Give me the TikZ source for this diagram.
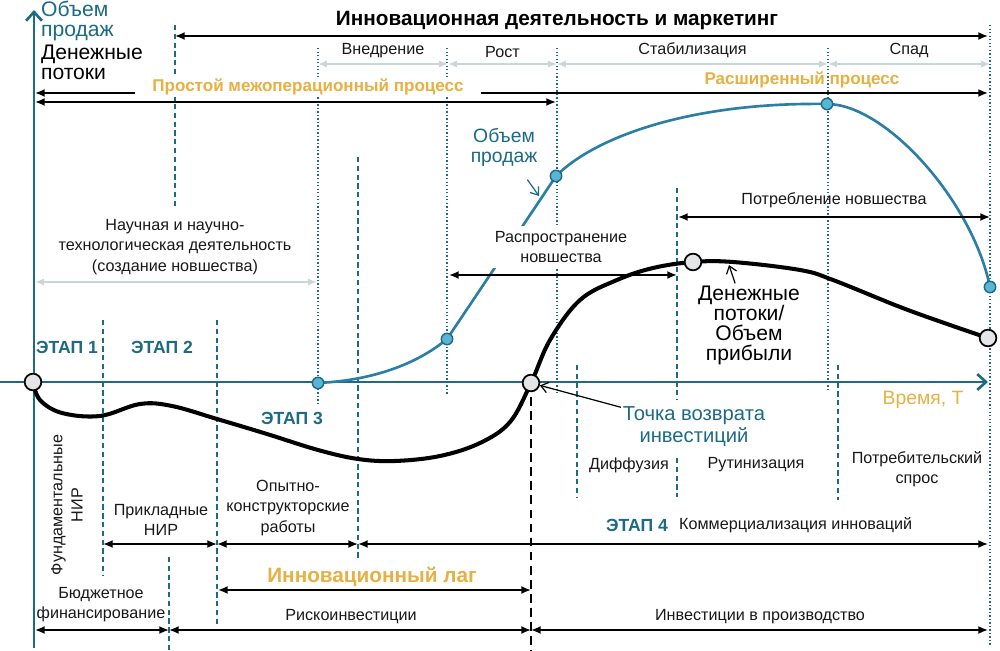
\documentclass[tikz,border=0pt]{standalone}
\usepackage{fontspec}
\setmainfont{Liberation Sans}
\usetikzlibrary{arrows.meta,positioning}
\definecolor{axteal}{HTML}{1D6A84}
\definecolor{salesblue}{HTML}{2B7FA5}
\definecolor{ptblue}{HTML}{5AB4D3}
\definecolor{lagorange}{HTML}{E6B043}
\definecolor{phasegray}{HTML}{C9D6DA}
\definecolor{circgray}{HTML}{E3E5E6}
\begin{document}
\begin{tikzpicture}[x=0.02cm,y=-0.02cm,>={Latex[length=5.5pt,width=4.5pt]},
lbl/.style={font=\fontsize{9.2}{11.5}\selectfont,align=center,inner sep=1pt,text=black!90},
biglbl/.style={font=\fontsize{12}{11.4}\selectfont,align=center,inner sep=1pt},
etap/.style={font=\fontsize{10}{12}\selectfont\bfseries,text=axteal,inner sep=1pt},
hl/.style={font=\fontsize{9.7}{12}\selectfont\bfseries,text=lagorange,inner sep=1pt},
dspan/.style={<->,line width=0.9pt},
phasearr/.style={<->,line width=0.9pt,draw=phasegray,>={Latex[length=5pt,width=4pt]}},
vdot/.style={draw=axteal,line width=0.8pt,dash pattern=on 0.8pt off 1.2pt},
vdash/.style={draw=axteal,line width=0.8pt,dash pattern=on 3pt off 2pt},
axis/.style={draw=axteal,line width=1.5pt,-{Straight Barb[length=5pt,width=9pt]}},
sales/.style={draw=salesblue,line width=1.5pt},
cash/.style={draw=black,line width=2.3pt},
bigpt/.style={circle,draw,fill=circgray,line width=1pt,minimum size=9.5pt,inner sep=0pt},
spt/.style={circle,draw=axteal,fill=ptblue,line width=0.8pt,minimum size=6.5pt,inner sep=0pt},
pointer/.style={-{Straight Barb[length=4pt,width=6pt]},line width=0.7pt}]
\useasboundingbox (0,0) rectangle (1000,651);
\fill[white] (0,0) rectangle (1000,651);
\foreach \x/\ya/\yb in {318/48/405,447/48/395,557/48/393,828/48/390,990/25/645}
  \draw[vdot] (\x,\ya)--(\x,\yb);
\foreach \x/\ya/\yb in {175/25/207,103/320/575,217/320/625,358/157/560,169/557/651,677/188/400,677/458/497,577/365/497,838/365/500}
  \draw[vdash] (\x,\ya)--(\x,\yb);
\draw[axis] (34,648)--(34,10);
\draw[axis] (0,382)--(988,382);
\coordinate (c0) at (33,382);
\coordinate (ret) at (531,383);
\coordinate (peak) at (693,262);
\coordinate (cend) at (988,338);
\coordinate (s0) at (318,383);
\coordinate (s1) at (447,339);
\coordinate (s2) at (556,176);
\coordinate (s3) at (827,104);
\coordinate (s4) at (990,287);
\draw[dashed,line width=1pt,dash pattern=on 5pt off 3pt] (ret)--(531,651);
\draw[sales] (s0) .. controls (380,380) and (422,360) .. (s1) .. controls (480,290) and (530,215) .. (s2) .. controls (595,137) and (690,102) .. (s3) .. controls (885,104) and (972,200) .. (s4);
\draw[cash] plot[smooth,tension=0.6] coordinates {(c0) (40,400) (62,413) (100,416) (140,404) (172,406) (217,419) (267,434) (318,450) (358,459) (395,461) (440,456) (480,443) (510,422) (ret) (550,340) (580,300) (617,280) (653,268) (peak) (733,262) (800,270) (833,280) (900,307) (950,325) (cend)};
\foreach \n/\x/\y in {t0/175/36,t1/988/36,p0/318/64,p1/448/64,p2/557/64,p3/828/64,p4/990/64,r0/35/93,r1/988/93,q0/35/102,q1/556/102,g0/35/282,g1/317/282,d0/449/275,d1/677/275,u0/678/217,u1/990/217,b0/103/544,b1/217/544,b2/358/544,b3/988/544,l0/218/590,l1/531/590,f0/35/630,f1/169/630,f2/531/630,f3/988/630}
  \coordinate (\n) at (\x,\y);
\draw[dspan] (t0)--(t1);
\foreach \a/\b/\t in {p0/p1/Внедрение,p1/p2/Рост,p2/p3/Стабилизация,p3/p4/Спад}
  \draw[phasearr] (\a)--(\b) node[lbl,midway,above=2pt] (\a-lbl) {\t};
\draw[dspan] (r0)--(r1);
\draw[dspan] (q0)--(q1);
\draw[phasearr] (g0)--(g1);
\foreach \a/\b in {d0/d1,u0/u1,b0/b1,b1/b2,b2/b3,l0/l1,f0/f1,f1/f2,f2/f3}
  \draw[dspan] (\a)--(\b);
\node[font=\fontsize{11.8}{13}\selectfont\bfseries] (title) at (557,21) {Инновационная деятельность и маркетинг};
\node[biglbl,text=axteal,align=left,anchor=west] (ylab) at (39,21) {Объем\\продаж};
\node[biglbl,align=left,anchor=west] (ylab2) at (39,62) {Денежные\\потоки};
\node[hl,fill=white,inner xsep=10pt] (simple) at (308,87) {Простой межоперационный процесс};
\node[hl] (ext) at (802,80) {Расширенный процесс};
\node[lbl] (sci) at (175,247) {Научная и научно-\\технологическая деятельность\\(создание новшества)};
\node[lbl,fill=white,inner ysep=3pt] (spread) at (561,247) {Распространение\\новшества};
\node[lbl] (cons) at (834,200) {Потребление новшества};
\node[biglbl,font=\fontsize{11}{11.4}\selectfont,text=axteal] (slab) at (504,147) {Объем\\продаж};
\node[biglbl] (clab) at (749,325) {Денежные\\потоки/\\Объем\\прибыли};
\node[biglbl,font=\fontsize{11.5}{12.5}\selectfont,text=axteal] (retlab) at (694,427) {Точка возврата\\инвестиций};
\node[font=\fontsize{11}{13}\selectfont,text=lagorange] (time) at (923,400) {Время, Т};
\node[etap] (e1) at (67,347) {ЭТАП 1};
\node[etap] (e2) at (162,347) {ЭТАП 2};
\node[etap] (e3) at (292,418) {ЭТАП 3};
\node[etap] (e4) at (637,525) {ЭТАП 4};
\node[lbl,right=4pt of e4] (comm) {Коммерциализация инноваций};
\node[lbl] (diff) at (629,465) {Диффузия};
\node[lbl] (rout) at (756,465) {Рутинизация};
\node[lbl] (dem) at (917,469) {Потребительский\\спрос};
\node[lbl,rotate=90] (fund) at (67,505) {Фундаментальные\\НИР};
\node[lbl] (appl) at (161,520) {Прикладные\\НИР};
\node[lbl] (okr) at (288,508) {Опытно-\\конструкторские\\работы};
\node[hl,font=\fontsize{11.8}{14}\selectfont\bfseries] (lag) at (372,577) {Инновационный лаг};
\node[lbl] (budg) at (101,605) {Бюджетное\\финансирование};
\node[lbl] (risk) at (351,617) {Рискоинвестиции};
\node[lbl] (prod) at (760,617) {Инвестиции в производство};
\foreach \p in {c0,ret,peak,cend}
  \node[bigpt] (\p-pt) at (\p) {};
\foreach \p in {s0,s1,s2,s3,s4}
  \node[spt] (\p-pt) at (\p) {};
\coordinate (scurve) at (539,196);
\coordinate (ccurve) at (729,265);
\draw[pointer,draw=axteal,shorten <=8pt] (slab)--(scurve);
\draw[pointer] (clab)--(ccurve);
\draw[pointer] (retlab)--(ret-pt);
\end{tikzpicture}
\end{document}
